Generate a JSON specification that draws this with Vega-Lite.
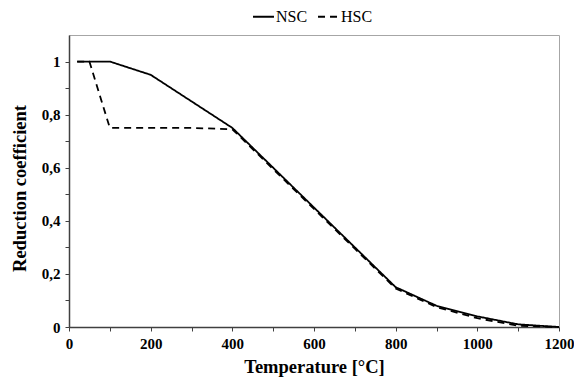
{
  "$schema": "https://vega.github.io/schema/vega-lite/v6.json",
  "autosize": "none",
  "width": 490,
  "height": 292,
  "padding": {"left": 69, "top": 35, "right": 15, "bottom": 54},
  "background": "white",
  "config": {
    "font": "Times New Roman, Liberation Serif, serif",
    "view": {"stroke": "#a6a6a6", "strokeWidth": 1},
    "axis": {
      "labelFont": "Times New Roman, Liberation Serif, serif",
      "labelFontWeight": "bold",
      "labelFontSize": 15,
      "labelColor": "#000000",
      "titleFont": "Times New Roman, Liberation Serif, serif",
      "titleFontWeight": "bold",
      "titleFontSize": 18.5,
      "titleColor": "#000000",
      "domainColor": "#404040",
      "domainWidth": 1.5,
      "tickColor": "#404040",
      "tickWidth": 1,
      "tickSize": 4,
      "labelFlush": false,
      "grid": false
    }
  },
  "data": {
    "values": [
      {"T": 20, "k": 1.0, "s": "NSC"},
      {"T": 100, "k": 1.0, "s": "NSC"},
      {"T": 200, "k": 0.95, "s": "NSC"},
      {"T": 300, "k": 0.85, "s": "NSC"},
      {"T": 400, "k": 0.75, "s": "NSC"},
      {"T": 500, "k": 0.6, "s": "NSC"},
      {"T": 600, "k": 0.45, "s": "NSC"},
      {"T": 700, "k": 0.3, "s": "NSC"},
      {"T": 800, "k": 0.15, "s": "NSC"},
      {"T": 900, "k": 0.08, "s": "NSC"},
      {"T": 1000, "k": 0.04, "s": "NSC"},
      {"T": 1100, "k": 0.01, "s": "NSC"},
      {"T": 1200, "k": 0.0, "s": "NSC"},
      {"T": 20, "k": 1.0, "s": "HSC"},
      {"T": 50, "k": 1.0, "s": "HSC"},
      {"T": 100, "k": 0.75, "s": "HSC"},
      {"T": 200, "k": 0.75, "s": "HSC"},
      {"T": 300, "k": 0.75, "s": "HSC"},
      {"T": 400, "k": 0.745, "s": "HSC"},
      {"T": 500, "k": 0.595, "s": "HSC"},
      {"T": 600, "k": 0.445, "s": "HSC"},
      {"T": 700, "k": 0.295, "s": "HSC"},
      {"T": 800, "k": 0.145, "s": "HSC"},
      {"T": 900, "k": 0.075, "s": "HSC"},
      {"T": 1000, "k": 0.033, "s": "HSC"},
      {"T": 1100, "k": 0.005, "s": "HSC"},
      {"T": 1200, "k": 0.0, "s": "HSC"}
    ]
  },
  "mark": {"type": "line", "strokeWidth": 1.8, "color": "#000000"},
  "encoding": {
    "x": {
      "field": "T",
      "type": "quantitative",
      "scale": {"domain": [0, 1200], "nice": false},
      "axis": {
        "title": "Temperature [°C]",
        "values": [0, 100, 200, 300, 400, 500, 600, 700, 800, 900, 1000, 1100, 1200],
        "format": "d",
        "labelExpr": "datum.value % 200 == 0 ? datum.label : ''",
        "labelPadding": 5,
        "titlePadding": 6
      }
    },
    "y": {
      "field": "k",
      "type": "quantitative",
      "scale": {"domain": [0, 1.1], "nice": false},
      "axis": {
        "title": "Reduction coefficient",
        "values": [0, 0.1, 0.2, 0.3, 0.4, 0.5, 0.6, 0.7, 0.8, 0.9, 1.0],
        "format": ".1~f",
        "labelExpr": "round(datum.value * 10) % 2 == 0 ? replace(datum.label, '.', ',') : ''",
        "labelPadding": 5,
        "titlePadding": 12,
        "titleY": 153
      }
    },
    "strokeDash": {
      "field": "s",
      "type": "nominal",
      "scale": {"domain": ["NSC", "HSC"], "range": [[1, 0], [7, 5]]},
      "legend": {
        "title": null,
        "orient": "none",
        "legendX": 183,
        "legendY": -30,
        "direction": "horizontal",
        "symbolType": "stroke",
        "symbolSize": 440,
        "symbolStrokeWidth": 2,
        "symbolStrokeColor": "#000000",
        "labelFont": "Times New Roman, Liberation Serif, serif",
        "labelFontSize": 16,
        "labelColor": "#000000",
        "labelOffset": 1,
        "columnPadding": 6
      }
    }
  }
}
